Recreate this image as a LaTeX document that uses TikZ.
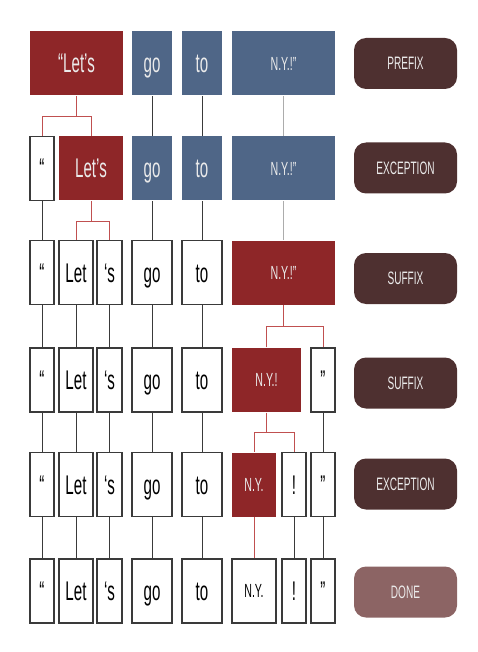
\documentclass[tikz,border=0pt]{standalone}
\usepackage{fontspec}
\setmainfont[FakeStretch=0.56]{Liberation Sans}
\usetikzlibrary{positioning, calc}

\definecolor{tokred}{HTML}{8E2628}
\definecolor{tokblue}{HTML}{4F6687}
\definecolor{stagedark}{HTML}{4E3030}
\definecolor{stagedone}{HTML}{8C6464}
\definecolor{boxline}{HTML}{3A3A3A}
\definecolor{linkred}{HTML}{C05050}

\tikzset{
  word/.style={draw=boxline, line width=1.2pt, fill=white, minimum height=64pt,
    inner sep=0pt, text height=19pt, text depth=0pt,
    font=\fontsize{27}{27}\selectfont},
  nyword/.style={text height=13.5pt, font=\fontsize{19}{19}\selectfont},
  redword/.style={word, draw=none, fill=tokred, text=white!92!black},
  blueword/.style={word, draw=none, fill=tokblue, text=white!92!black},
  stage/.style={fill=stagedark, text=white!92!black, rounded corners=12pt,
    minimum width=103pt, minimum height=51pt, inner sep=0pt,
    font=\fontsize{18}{18}\selectfont},
  link/.style={draw=boxline, line width=0.8pt},
  greylink/.style={draw=gray!65, line width=1.4pt},
  splitlink/.style={draw=linkred, line width=0.9pt}
}

\begin{document}
\begin{tikzpicture}[x=1pt, y=-1pt]
    \useasboundingbox (0,0) rectangle (477,652);

    % ---------------------------------------------------
    % 1. Prefix
    % ---------------------------------------------------
    \node[redword, minimum width=93pt] (lets1) at (76.5,63.5) {“Let’s};
    \node[blueword, minimum width=40pt] (go1) at (152,63.5) {go};
    \node[blueword, minimum width=40pt] (to1) at (202,63.5) {to};
    \node[blueword, nyword, minimum width=103pt] (ny1) at (283.5,63.5) {N.Y.!”};
    \node[stage] (st1) at (405.5,63.5) {PREFIX};

    % ---------------------------------------------------
    % 2. Exception
    % ---------------------------------------------------
    \node[word, minimum width=24pt] (q2) at (42,168.5) {“};
    \node[redword, minimum width=64pt] (lets2) at (91,168.5) {Let’s};
    \node[blueword, minimum width=40pt] (go2) at (152,168.5) {go};
    \node[blueword, minimum width=40pt] (to2) at (202,168.5) {to};
    \node[blueword, nyword, minimum width=103pt] (ny2) at (283.5,168.5) {N.Y.!”};
    \node[stage] (st2) at (405.5,168) {EXCEPTION};

    % ---------------------------------------------------
    % 3. Suffix
    % ---------------------------------------------------
    \node[word, minimum width=24pt] (q3) at (42,272.5) {“};
    \node[word, minimum width=34pt] (let3) at (76,272.5) {Let};
    \node[word, minimum width=25pt] (s3) at (109.5,272.5) {‘s};
    \node[word, minimum width=40pt] (go3) at (152,272.5) {go};
    \node[word, minimum width=40pt] (to3) at (202,272.5) {to};
    \node[redword, nyword, minimum width=103pt] (ny3) at (283.5,272.5) {N.Y.!”};
    \node[stage] (st3) at (405.5,278.5) {SUFFIX};

    % ---------------------------------------------------
    % 4. Suffix
    % ---------------------------------------------------
    \node[word, minimum width=24pt] (q4) at (42,380) {“};
    \node[word, minimum width=34pt] (let4) at (76,380) {Let};
    \node[word, minimum width=25pt] (s4) at (109.5,380) {‘s};
    \node[word, minimum width=40pt] (go4) at (152,380) {go};
    \node[word, minimum width=40pt] (to4) at (202,380) {to};
    \node[redword, nyword, minimum width=69pt] (ny4) at (266.5,380) {N.Y.!};
    \node[word, minimum width=24pt] (qq4) at (323,380) {”};
    \node[stage] (st4) at (405.5,383) {SUFFIX};

    % ---------------------------------------------------
    % 5. Exception
    % ---------------------------------------------------
    \node[word, minimum width=24pt] (q5) at (42,484.5) {“};
    \node[word, minimum width=34pt] (let5) at (76,484.5) {Let};
    \node[word, minimum width=25pt] (s5) at (109.5,484.5) {‘s};
    \node[word, minimum width=40pt] (go5) at (152,484.5) {go};
    \node[word, minimum width=40pt] (to5) at (202,484.5) {to};
    \node[redword, nyword, minimum width=44pt] (ny5) at (254,484.5) {N.Y.};
    \node[word, minimum width=24pt] (ex5) at (294,484.5) {!};
    \node[word, minimum width=24pt] (qq5) at (323,484.5) {”};
    \node[stage] (st5) at (405.5,484) {EXCEPTION};

    % ---------------------------------------------------
    % 6. Done
    % ---------------------------------------------------
    \node[word, minimum width=24pt] (q6) at (42,591) {“};
    \node[word, minimum width=34pt] (let6) at (76,591) {Let};
    \node[word, minimum width=25pt] (s6) at (109.5,591) {‘s};
    \node[word, minimum width=40pt] (go6) at (152,591) {go};
    \node[word, minimum width=40pt] (to6) at (202,591) {to};
    \node[word, nyword, minimum width=44pt] (ny6) at (254,591) {N.Y.};
    \node[word, minimum width=24pt] (ex6) at (294,591) {!};
    \node[word, minimum width=24pt] (qq6) at (323,591) {”};
    \node[stage, fill=stagedone] (st6) at (405.5,592) {DONE};

    % Splits
    \draw[splitlink] (lets1.south) -- ++(0,20) coordinate (j1);
    \draw[splitlink] (q2.north) |- (j1) -| (lets2.north);
    \draw[splitlink] (lets2.south) -- ++(0,20) coordinate (j2);
    \draw[splitlink] (let3.north) |- (j2) -| (s3.north);
    \draw[splitlink] (ny3.south) -- ++(0,21.5) coordinate (j3);
    \draw[splitlink] (ny4.north) |- (j3) -| (qq4.north);
    \draw[splitlink] (ny4.south) -- ++(0,20) coordinate (j4);
    \draw[splitlink] (ny5.north) |- (j4) -| (ex5.north);
    \draw[splitlink] (ny5.south) -- (ny6.north);

    % Unchanged tokens
    \draw[link] (go1.south) -- (go2.north) (to1.south) -- (to2.north);
    \draw[greylink] (ny1.south) -- (ny2.north);
    \draw[link] (q2.south) -- (q3.north) (go2.south) -- (go3.north)
        (to2.south) -- (to3.north);
    \draw[greylink] (ny2.south) -- (ny3.north);
    \draw[link] (q3.south) -- (q4.north) (let3.south) -- (let4.north)
        (s3.south) -- (s4.north) (go3.south) -- (go4.north)
        (to3.south) -- (to4.north);
    \draw[link] (q4.south) -- (q5.north) (let4.south) -- (let5.north)
        (s4.south) -- (s5.north) (go4.south) -- (go5.north)
        (to4.south) -- (to5.north) (qq4.south) -- (qq5.north);
    \draw[link] (q5.south) -- (q6.north) (let5.south) -- (let6.north)
        (s5.south) -- (s6.north) (go5.south) -- (go6.north)
        (to5.south) -- (to6.north) (ex5.south) -- (ex6.north)
        (qq5.south) -- (qq6.north);

\end{tikzpicture}
\end{document}
